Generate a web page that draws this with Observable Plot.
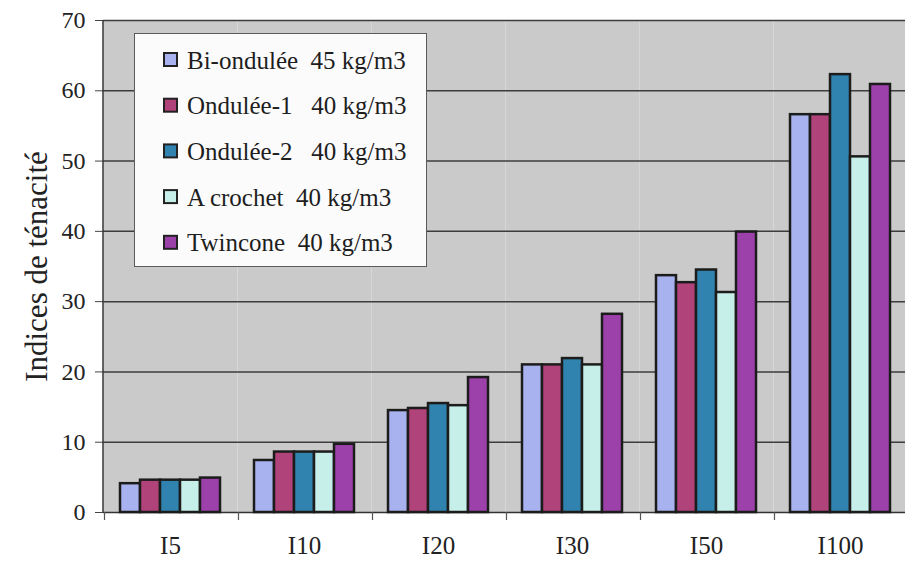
<!DOCTYPE html>
<html>
<head>
<meta charset="utf-8">
<script src="https://cdn.jsdelivr.net/npm/d3@7"></script>
<script src="https://cdn.jsdelivr.net/npm/@observablehq/plot@0.6"></script>
<style>
  html, body { margin: 0; padding: 0; background: #fff; }
  #wrap { position: relative; width: 905px; height: 563px; overflow: hidden; }
</style>
</head>
<body>
<div id="wrap"></div>
<script>
// Toughness indices per fibre type, grouped by index
const categories = ["I5", "I10", "I20", "I30", "I50", "I100"];
const series = ["Bi-ondulée", "Ondulée-1", "Ondulée-2", "A crochet", "Twincone"];
const densities = ["45 kg/m3", "40 kg/m3", "40 kg/m3", "40 kg/m3", "40 kg/m3"];
const gaps = ["  ", "   ", "   ", "  ", "  "];
const colors = ["#a8b2ee", "#b0437a", "#3083ae", "#c6efe9", "#9c40aa"];

// One array of values per series, in the order of `categories`
const biOndulee = [4.1, 7.4, 14.5, 21.0, 33.7, 56.6];
const ondulee1  = [4.6, 8.6, 14.8, 21.0, 32.7, 56.6];
const ondulee2  = [4.6, 8.6, 15.5, 21.9, 34.5, 62.3];
const aCrochet  = [4.6, 8.6, 15.2, 21.0, 31.3, 50.6];
const twincone  = [4.9, 9.7, 19.2, 28.2, 39.9, 60.9];
const yTicks = [0, 10, 20, 30, 40, 50, 60, 70];
const gridTicks = [10, 20, 30, 40, 50, 60, 70];

const valuesBySeries = [biOndulee, ondulee1, ondulee2, aCrochet, twincone];
const data = [];
categories.forEach((c, i) => series.forEach((s, j) => data.push({index: c, type: s, value: valuesBySeries[j][i]})));

const serif = "'Liberation Serif', 'Times New Roman', serif";

const plot = Plot.plot({
  width: 905,
  height: 563,
  marginTop: 20,
  marginBottom: 51,
  marginLeft: 100,
  marginRight: -4,
  style: {fontFamily: serif, color: "#222", background: "transparent"},
  fx: {domain: categories, padding: 0, label: null, axis: null},
  x: {domain: series, paddingInner: 0, paddingOuter: 0.7, axis: null},
  y: {domain: [0, 70], axis: null},
  color: {domain: series, range: colors},
  marks: [
    Plot.frame({fill: "#cacaca", stroke: "none"}),
    Plot.gridY(gridTicks, {stroke: "#3c3c3c", strokeOpacity: 1, strokeWidth: 1.5}),
    Plot.ruleY([0], {stroke: "#333", strokeWidth: 1.5}),
    Plot.barY(data, {fx: "index", x: "type", y: "value", fill: "type", stroke: "#1c1c1c", strokeWidth: 2.5, inset: 0}),
    Plot.axisY({ticks: yTicks, tickSize: 8, tickPadding: 10, label: null, fontSize: 24, stroke: "#444"}),
    Plot.axisY({ticks: [], label: "Indices de ténacité", labelArrow: false, labelAnchor: "center", labelOffset: 79, fontSize: 31}),
    Plot.axisFx({anchor: "bottom", tickSize: 0, tickPadding: 24, label: null, fontSize: 25})
  ]
});

// Left axis line and short separators between the index groups
const svg = d3.select(plot);
const fx = plot.scale("fx");
const y = plot.scale("y");
const y0 = y.apply(0), yTop = y.apply(70);
const edges = categories.map(c => fx.apply(c)).concat([fx.apply(categories[categories.length - 1]) + fx.bandwidth]);
svg.append("line")
  .attr("x1", edges[0]).attr("x2", edges[0]).attr("y1", yTop).attr("y2", y0)
  .attr("stroke", "#333").attr("stroke-width", 1.5);
svg.append("g").selectAll("line").data(edges).join("line")
  .attr("x1", d => d + 1.5).attr("x2", d => d + 1.5).attr("y1", y0).attr("y2", y0 + 8)
  .attr("stroke", "#555").attr("stroke-width", 1.2);

// Legend box over the upper-left of the plot area
const legend = svg.append("g")
  .attr("transform", "translate(134.5,33.5)")
  .attr("font-family", serif).attr("font-size", 25).attr("fill", "#1e1e1e")
  .attr("text-anchor", "start");
legend.append("rect")
  .attr("width", 292).attr("height", 233)
  .attr("fill", "#fbfbfb").attr("stroke", "#5a5a5a").attr("stroke-width", 1);
const rows = legend.selectAll("g.row").data(series).join("g")
  .attr("class", "row")
  .attr("transform", (d, i) => `translate(0,${26.5 + i * 45.7})`);
rows.append("rect")
  .attr("x", 29.5).attr("y", -7).attr("width", 13).attr("height", 13)
  .attr("fill", (d, i) => colors[i]).attr("stroke", "#222").attr("stroke-width", 2);
rows.append("text")
  .attr("x", 52.5).attr("y", 8.5)
  .attr("text-anchor", "start")
  .attr("xml:space", "preserve").style("white-space", "pre")
  .text((d, i) => d + gaps[i] + densities[i]);

document.getElementById("wrap").appendChild(plot);
</script>
</body>
</html>
